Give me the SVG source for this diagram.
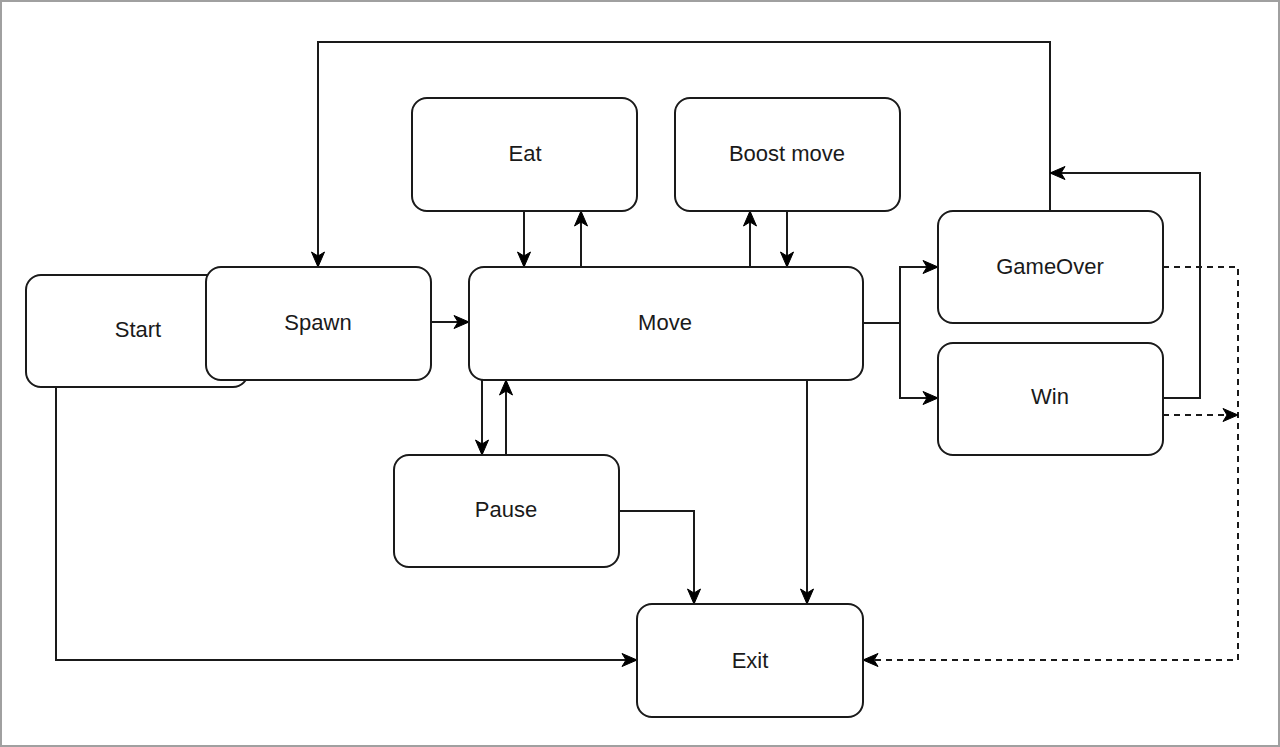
<svg xmlns="http://www.w3.org/2000/svg" width="1280" height="747" viewBox="0 0 1280 747">
  <defs>
    <style>
      .node rect { fill: #ffffff; stroke: #1a1a1a; stroke-width: 2; }
      .node text { font-family: "Liberation Sans", Arial, sans-serif; font-size: 22px; fill: #1a1a1a; text-anchor: middle; }
      .edge { fill: none; stroke: #1a1a1a; stroke-width: 2; marker-end: url(#arrow); }
      .dash { stroke-dasharray: 6 5; }
    </style>
    <marker id="arrow" markerUnits="userSpaceOnUse" markerWidth="18" markerHeight="18" viewBox="0 0 18 18" refX="16" refY="9" orient="auto">
      <path d="M1,2.5 L16,9 L1,15.5 L5,9 Z" fill="#000000" stroke="#000000" stroke-width="1"/>
    </marker>
  </defs>
  <rect x="1" y="1" width="1278" height="745" fill="#ffffff" stroke="#a0a0a0" stroke-width="2"/>

  <g id="connectors">
    <path class="edge" d="M431,322 L469,322"/>
    <path class="edge" d="M524,211 L524,267"/>
    <path class="edge" d="M581,267 L581,211"/>
    <path class="edge" d="M750,267 L750,211"/>
    <path class="edge" d="M787,211 L787,267"/>
    <path class="edge" d="M863,323 L900,323 L900,267 L938,267"/>
    <path class="edge" d="M900,323 L900,398 L938,398"/>
    <path class="edge" d="M1050,211 L1050,42 L318,42 L318,267"/>
    <path class="edge" d="M1163,398 L1200,398 L1200,173 L1050,173"/>
    <path class="edge dash" d="M1163,267 L1238,267 L1238,660 L863,660"/>
    <path class="edge dash" d="M1163,415 L1238,415"/>
    <path class="edge" d="M482,380 L482,455"/>
    <path class="edge" d="M506,455 L506,380"/>
    <path class="edge" d="M619,511 L694,511 L694,604"/>
    <path class="edge" d="M807,380 L807,604"/>
    <path class="edge" d="M56,387 L56,660 L637,660"/>
  </g>

  <g id="node-start" class="node">
    <rect x="26" y="275" width="222" height="112" rx="15"/>
    <text x="138" y="337">Start</text>
  </g>
  <g id="node-spawn" class="node">
    <rect x="206" y="267" width="225" height="113" rx="15"/>
    <text x="318" y="330">Spawn</text>
  </g>
  <g id="node-move" class="node">
    <rect x="469" y="267" width="394" height="113" rx="15"/>
    <text x="665" y="330">Move</text>
  </g>
  <g id="node-eat" class="node">
    <rect x="412" y="98" width="225" height="113" rx="15"/>
    <text x="525" y="161">Eat</text>
  </g>
  <g id="node-boost" class="node">
    <rect x="675" y="98" width="225" height="113" rx="15"/>
    <text x="787" y="161">Boost move</text>
  </g>
  <g id="node-gameover" class="node">
    <rect x="938" y="211" width="225" height="112" rx="15"/>
    <text x="1050" y="274">GameOver</text>
  </g>
  <g id="node-win" class="node">
    <rect x="938" y="343" width="225" height="112" rx="15"/>
    <text x="1050" y="404">Win</text>
  </g>
  <g id="node-pause" class="node">
    <rect x="394" y="455" width="225" height="112" rx="15"/>
    <text x="506" y="517">Pause</text>
  </g>
  <g id="node-exit" class="node">
    <rect x="637" y="604" width="226" height="113" rx="15"/>
    <text x="750" y="668">Exit</text>
  </g>
</svg>
